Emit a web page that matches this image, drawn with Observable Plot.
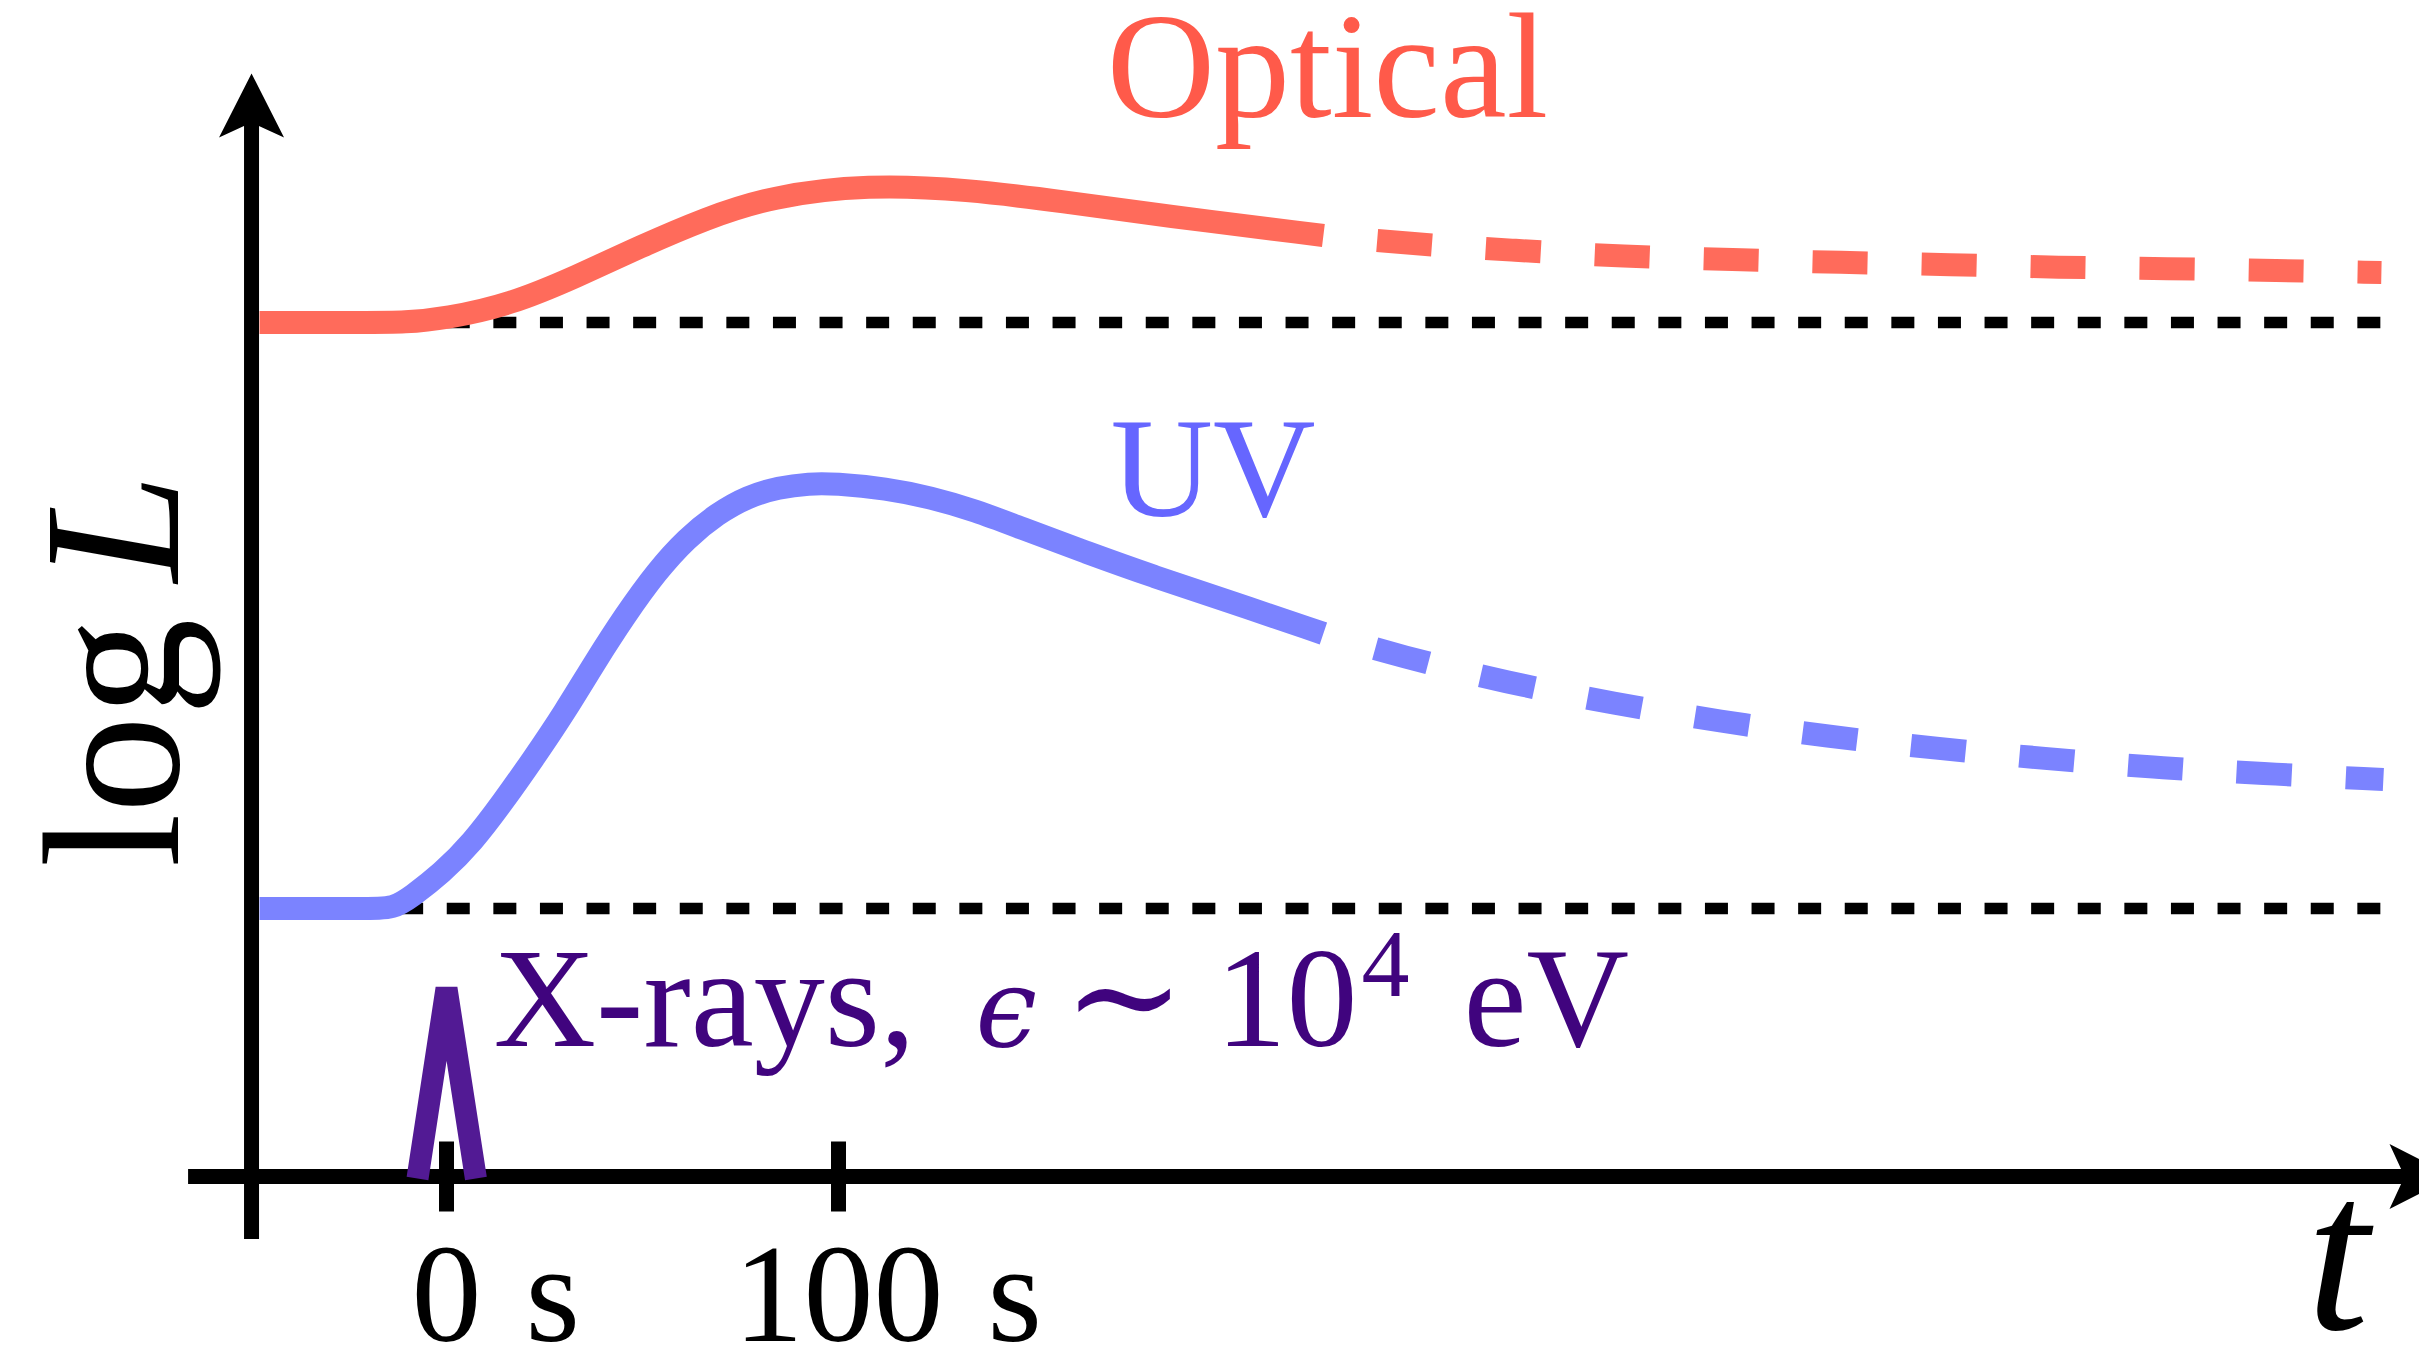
<!DOCTYPE html>
<html>
<head>
<meta charset="utf-8">
<script src="https://cdn.jsdelivr.net/npm/d3@7"></script>
<script src="https://cdn.jsdelivr.net/npm/@observablehq/plot@0.6"></script>
<style>
  html, body { margin: 0; padding: 0; background: #fff; overflow: hidden; }
</style>
</head>
<body>
<script>
// ---- data (t in seconds, L = log luminosity, arbitrary units) ----
const opticalSolid = [
  {t: -47.7, L: 8.54}, {t: -20.0, L: 8.54}, {t: -10.7, L: 8.54}, {t: -0.3, L: 8.58}, {t: 16.3, L: 8.72},
  {t: 33.2, L: 9.00}, {t: 49.5, L: 9.30}, {t: 66.1, L: 9.58}, {t: 82.7, L: 9.80},
  {t: 107.7, L: 9.92}, {t: 132.7, L: 9.87}, {t: 157.4, L: 9.75}, {t: 182.4, L: 9.61},
  {t: 223.7, L: 9.41}
];
const opticalTail = [
  {t: 223.7, L: 9.41}, {t: 244.9, L: 9.33}, {t: 272.7, L: 9.26}, {t: 300.3, L: 9.20},
  {t: 328.1, L: 9.17}, {t: 355.6, L: 9.14}, {t: 383.7, L: 9.12}, {t: 411.2, L: 9.09},
  {t: 439.0, L: 9.08}, {t: 466.8, L: 9.06}, {t: 493.6, L: 9.04}
];
const uvSolid = [
  {t: -47.7, L: 2.68}, {t: -20.0, L: 2.68}, {t: -13.5, L: 2.68}, {t: -8.9, L: 2.80}, {t: -1.3, L: 3.03},
  {t: 6.6, L: 3.34}, {t: 14.3, L: 3.74}, {t: 22.2, L: 4.18}, {t: 30.1, L: 4.64},
  {t: 37.8, L: 5.14}, {t: 45.7, L: 5.62}, {t: 53.6, L: 6.05}, {t: 61.2, L: 6.38},
  {t: 69.1, L: 6.63}, {t: 76.8, L: 6.80}, {t: 84.7, L: 6.89}, {t: 92.6, L: 6.93},
  {t: 99.0, L: 6.93}, {t: 112.2, L: 6.88}, {t: 123.5, L: 6.79}, {t: 134.9, L: 6.66},
  {t: 146.2, L: 6.49}, {t: 163.3, L: 6.24}, {t: 180.4, L: 6.00}, {t: 197.4, L: 5.78},
  {t: 223.7, L: 5.43}
];
const uvTail = [
  {t: 223.7, L: 5.43}, {t: 243.4, L: 5.20}, {t: 270.4, L: 4.94}, {t: 297.7, L: 4.73},
  {t: 325.0, L: 4.55}, {t: 352.3, L: 4.40}, {t: 380.1, L: 4.28}, {t: 407.7, L: 4.18},
  {t: 435.5, L: 4.09}, {t: 463.0, L: 4.03}, {t: 494.1, L: 3.97}
];
const xrayFlash = [
  {t: -7.4, L: -0.02}, {t: 0, L: 1.88}, {t: 7.5, L: -0.02}
];
const baselines = [
  {band: "Optical", L: 8.54, t1: -11.7, t2: 493.6},
  {band: "UV", L: 2.68, t1: -11.7, t2: 493.6}
];
const tickValues = [0, 100];
const tickLabels = ["0 s", "100 s"];
const bandLabels = [
  {text: "Optical", t: 168.4, L: 10.60, size: 150, color: "#ff5a4a"},
  {text: "UV", t: 169.4, L: 6.61, size: 142, color: "#6666ff"}
];
const xrayLabel = [{text: "X-rays, \u03f5 \u223c 10^4 eV", t: 12.0, L: 1.31}];
const yTitle = [{text: "log L", t: -68.6, L: 3.09}];
const xTitle = [{text: "t", t: 474.5, L: -1.52}];

// axis geometry in data units
const yAxis = [{t: -49.74, L1: -0.63, L2: 10.60}];
const xAxis = [{L: 0, t1: -65.8, t2: 502}];
const arrowUpTip = [{t: -49.74, L: 11.03}];
const arrowRightTip = [{t: 512, L: 0}];

// ---- styles ----
const FONT = "Liberation Serif, Times New Roman, serif";
const C = {
  optical: "#ff6b5b", uv: "#7b83ff", xray: "#521a94", xrayText: "#40047e"
};

const arrowUp = {draw(ctx) { ctx.moveTo(0, 0); ctx.lineTo(32.5, 64); ctx.lineTo(0, 49); ctx.lineTo(-32.5, 64); ctx.closePath(); }};
const arrowRight = {draw(ctx) { ctx.moveTo(0, 0); ctx.lineTo(-64, -32.5); ctx.lineTo(-49, 0); ctx.lineTo(-64, 32.5); ctx.closePath(); }};

const lineOpts = {x: "t", y: "L", strokeWidth: 23, strokeLinecap: "butt", strokeLinejoin: "round", curve: "basis"};
const dashOpts = {strokeDasharray: "55,54", strokeDashoffset: 55};

const svg = Plot.plot({
  width: 2419,
  height: 1355,
  margin: 0,
  style: {background: "white", overflow: "visible"},
  x: {domain: [-113.78, 503.32], axis: null},
  y: {domain: [-1.79, 11.76], axis: null},
  marks: [
    Plot.ruleY(baselines, {y: "L", x1: "t1", x2: "t2", stroke: "black", strokeWidth: 11.5, strokeDasharray: "23,23.6"}),
    Plot.line(opticalSolid, {...lineOpts, stroke: C.optical}),
    Plot.line(opticalTail, {...lineOpts, ...dashOpts, stroke: C.optical}),
    Plot.line(uvSolid, {...lineOpts, stroke: C.uv}),
    Plot.line(uvTail, {...lineOpts, ...dashOpts, stroke: C.uv}),
    Plot.ruleX(yAxis, {x: "t", y1: "L1", y2: "L2", stroke: "black", strokeWidth: 15}),
    Plot.ruleY(xAxis, {y: "L", x1: "t1", x2: "t2", stroke: "black", strokeWidth: 15}),
    Plot.dot(arrowUpTip, {x: "t", y: "L", symbol: arrowUp, fill: "black", stroke: "none"}),
    Plot.dot(arrowRightTip, {x: "t", y: "L", symbol: arrowRight, fill: "black", stroke: "none"}),
    Plot.ruleX(tickValues, {x: d => d, y1: () => -0.355, y2: () => 0.345, stroke: "black", strokeWidth: 15}),
    Plot.line(xrayFlash, {x: "t", y: "L", stroke: C.xray, strokeWidth: 22, strokeLinejoin: "bevel", strokeLinecap: "butt", curve: "linear"}),
    Plot.text(tickValues, {x: d => d, y: () => -1.64, text: (d, i) => tickLabels[i], textAnchor: "middle", lineAnchor: "bottom", fontSize: 140, fontFamily: FONT, fill: "black"}),
    Plot.text(bandLabels, {x: "t", y: "L", text: "text", fill: "color", fontSize: "size", textAnchor: "start", lineAnchor: "bottom", fontFamily: FONT}),
    Plot.text(xrayLabel, {x: "t", y: "L", text: "text", fill: C.xrayText, fontSize: 142, textAnchor: "start", lineAnchor: "bottom", fontFamily: FONT}),
    Plot.text(yTitle, {x: "t", y: "L", text: "text", rotate: -90, fill: "black", fontSize: 195, textAnchor: "start", lineAnchor: "bottom", fontFamily: FONT}),
    Plot.text(xTitle, {x: "t", y: "L", text: "text", fill: "black", fontSize: 225, fontStyle: "italic", textAnchor: "start", lineAnchor: "bottom", fontFamily: FONT})
  ]
});
document.body.append(svg);

// ---- rich text post-processing (italics, superscripts, spacing) ----
const NS = "http://www.w3.org/2000/svg";
function tspan(text, o = {}) {
  const ts = document.createElementNS(NS, "tspan");
  ts.textContent = text;
  if (o.dx != null) ts.setAttribute("dx", o.dx);
  if (o.dy != null) ts.setAttribute("dy", o.dy);
  if (o.italic) ts.setAttribute("font-style", "italic");
  if (o.size) ts.setAttribute("font-size", o.size);
  if (o.family) ts.setAttribute("font-family", o.family);
  return ts;
}
const allTexts = () => Array.from(svg.querySelectorAll("text"));
function rich(content, parts) {
  const el = allTexts().find(t => t.textContent === content);
  if (!el) return;
  el.textContent = "";
  for (const p of parts) el.append(tspan(p.text, p));
}
allTexts().filter(t => tickLabels.includes(t.textContent)).forEach(el => {
  const [num, unit] = el.textContent.split(" ");
  el.textContent = "";
  const a = tspan(num);
  el.append(a);
  const w = a.getComputedTextLength();
  el.setAttribute("text-anchor", "start");
  a.setAttribute("dx", -w / 2);
  el.append(tspan(unit, {dx: 44}));
});
rich(xrayLabel[0].text, [
  {text: "X-rays,"},
  {text: "\u03f5", italic: true, dx: 60, size: 110, family: "DejaVu Serif"},
  {text: "\u223c", dx: 26, size: 146, family: "DejaVu Serif"},
  {text: "10", dx: 30},
  {text: "4", size: 96, dy: -50, dx: 4},
  {text: "eV", dy: 50, dx: 54}
]);
rich(yTitle[0].text, [
  {text: "log"},
  {text: "L", italic: true, dx: 36}
]);
</script>
</body>
</html>
